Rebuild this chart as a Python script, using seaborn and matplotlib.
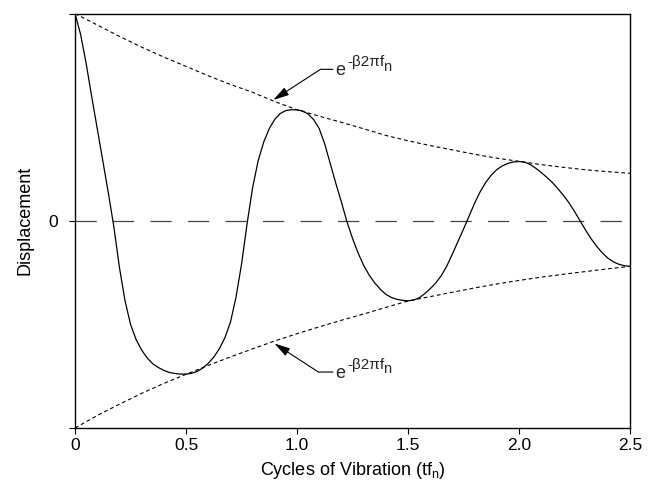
import numpy as np
import matplotlib
matplotlib.use("Agg")
import matplotlib.pyplot as plt
import seaborn as sns

# sampled positions along the time axis (cycles of vibration)
cycles = [0.000, 0.025, 0.050, 0.075, 0.100, 0.125, 0.150, 0.175, 0.200, 0.225,
          0.250, 0.275, 0.300, 0.325, 0.350, 0.375, 0.400, 0.425, 0.450, 0.475,
          0.500, 0.525, 0.550, 0.575, 0.600, 0.625, 0.650, 0.675, 0.700, 0.725,
          0.750, 0.775, 0.800, 0.825, 0.850, 0.875, 0.900, 0.925, 0.950, 0.975,
          1.000, 1.025, 1.050, 1.075, 1.100, 1.125, 1.150, 1.175, 1.200, 1.225,
          1.250, 1.275, 1.300, 1.325, 1.350, 1.375, 1.400, 1.425, 1.450, 1.475,
          1.500, 1.525, 1.550, 1.575, 1.600, 1.625, 1.650, 1.675, 1.700, 1.725,
          1.750, 1.775, 1.800, 1.825, 1.850, 1.875, 1.900, 1.925, 1.950, 1.975,
          2.000, 2.025, 2.050, 2.075, 2.100, 2.125, 2.150, 2.175, 2.200, 2.225,
          2.250, 2.275, 2.300, 2.325, 2.350, 2.375, 2.400, 2.425, 2.450, 2.475,
          2.500]

# displacement
displacement = [1.000, 0.900, 0.760, 0.600, 0.445, 0.290, 0.135, -0.030, -0.225, -0.385,
                -0.500, -0.573, -0.624, -0.662, -0.690, -0.708, -0.722, -0.732, -0.737, -0.740,
                -0.740, -0.736, -0.727, -0.711, -0.688, -0.658, -0.618, -0.565, -0.490, -0.370,
                -0.210, -0.015, 0.160, 0.290, 0.380, 0.445, 0.490, 0.518, 0.532, 0.536,
                0.535, 0.530, 0.515, 0.488, 0.445, 0.370, 0.275, 0.180, 0.090, -0.005,
                -0.085, -0.155, -0.215, -0.262, -0.300, -0.330, -0.355, -0.370, -0.379, -0.384,
                -0.386, -0.383, -0.372, -0.352, -0.328, -0.300, -0.265, -0.218, -0.160, -0.100,
                -0.040, 0.022, 0.085, 0.140, 0.185, 0.220, 0.247, 0.265, 0.277, 0.284,
                0.286, 0.283, 0.272, 0.254, 0.233, 0.210, 0.185, 0.155, 0.123, 0.087,
                0.045, 0.000, -0.045, -0.087, -0.123, -0.155, -0.180, -0.198, -0.210, -0.217,
                -0.220]

# decay envelopes
env_cycles = [0.0, 0.1, 0.2, 0.3, 0.4, 0.5, 0.6, 0.7, 0.8, 0.9,
              1.0, 1.1, 1.2, 1.3, 1.4, 1.5, 1.6, 1.7, 1.8, 1.9,
              2.0, 2.1, 2.2, 2.3, 2.4, 2.5]
env_upper = [1.000, 0.945, 0.890, 0.838, 0.790, 0.745, 0.700, 0.658, 0.620, 0.575,
             0.536, 0.505, 0.475, 0.444, 0.412, 0.386, 0.363, 0.342, 0.321, 0.302,
             0.287, 0.271, 0.258, 0.246, 0.237, 0.229]
env_lower = [-1.000, -0.940, -0.885, -0.833, -0.785, -0.741, -0.698, -0.657, -0.618, -0.580,
             -0.545, -0.512, -0.480, -0.450, -0.418, -0.387, -0.366, -0.345, -0.324, -0.305,
             -0.288, -0.272, -0.258, -0.245, -0.232, -0.220]

xtick_pos = [0, 0.5, 1.0, 1.5, 2.0, 2.5]
xtick_lab = ["0", "0.5", "1.0", "1.5", "2.0", "2.5"]
ytick_pos = [-1, 0, 1]
ytick_lab = ["", "0", ""]

sns.set_theme(style="ticks")
plt.rcParams["font.family"] = ["Liberation Sans", "DejaVu Sans"]
plt.rcParams["mathtext.fontset"] = "custom"
plt.rcParams["mathtext.rm"] = "Liberation Sans"
plt.rcParams["mathtext.it"] = "Liberation Sans"
plt.rcParams["mathtext.default"] = "regular"

fig = plt.figure(figsize=(6.57, 4.83), dpi=100)
ax = fig.add_axes([0.1142, 0.1139, 0.8447, 0.8580])

# zero reference line
ax.axhline(0, color="#444444", linewidth=0.9, linestyle=(0, (17, 13)), zorder=1)

# envelopes
sns.lineplot(x=env_cycles, y=env_upper, ax=ax, color="black", linewidth=0.8,
             linestyle=(0, (3.4, 2.6)))
sns.lineplot(x=env_cycles, y=env_lower, ax=ax, color="black", linewidth=0.8,
             linestyle=(0, (3.4, 2.6)))

# damped response
sns.lineplot(x=cycles, y=displacement, ax=ax, color="black", linewidth=0.9,
             solid_joinstyle="round", solid_capstyle="round")


def envelope_note(tip, elbow_angle, line_y, text_x, base_y):
    # leader line: short horizontal piece then an angled arrow to the envelope
    ax.annotate("", xy=tip, xytext=(text_x - 0.011, line_y),
                arrowprops=dict(arrowstyle="-|>,head_length=0.8,head_width=0.22",
                                color="black", lw=0.8, shrinkA=0, shrinkB=0,
                                connectionstyle=f"angle,angleA=0,angleB={elbow_angle},rad=0"))
    e_txt = ax.text(text_x, base_y, "e", fontsize=13, ha="left", va="baseline")
    sup = ax.annotate("-\u03b22\u03c0f", xy=(1, base_y), xycoords=(e_txt, "data"),
                      xytext=(1.2, 6.5), textcoords="offset points",
                      fontsize=11, ha="left", va="baseline")
    ax.annotate("n", xy=(1, base_y), xycoords=(sup, "data"),
                xytext=(-0.6, 3.4), textcoords="offset points",
                fontsize=10.5, ha="left", va="baseline")


envelope_note((0.893, 0.583), 33, 0.731, 1.173, 0.702)
envelope_note((0.898, -0.592), -33, -0.730, 1.173, -0.759)

ax.set_xlim(0, 2.5)
ax.set_ylim(-1, 1)
ax.set_xticks(xtick_pos, xtick_lab)
ax.set_yticks(ytick_pos, ytick_lab)
ax.tick_params(direction="out", length=4, width=0.8, colors="black", labelsize=12.5, pad=3)
ax.tick_params(axis="y", pad=8)
for side in ["left", "right", "top", "bottom"]:
    ax.spines[side].set_visible(True)
    ax.spines[side].set_color("black")
    ax.spines[side].set_linewidth(1.0)

ax.set_xlabel("Cycles of Vibration (tf$_n$)", fontsize=13, color="black", labelpad=5.5)
ax.set_ylabel("Displacement", fontsize=13, color="black")
ax.yaxis.set_label_coords(-0.074, 0.5)

fig.savefig("out.png", dpi=100, facecolor="white")
